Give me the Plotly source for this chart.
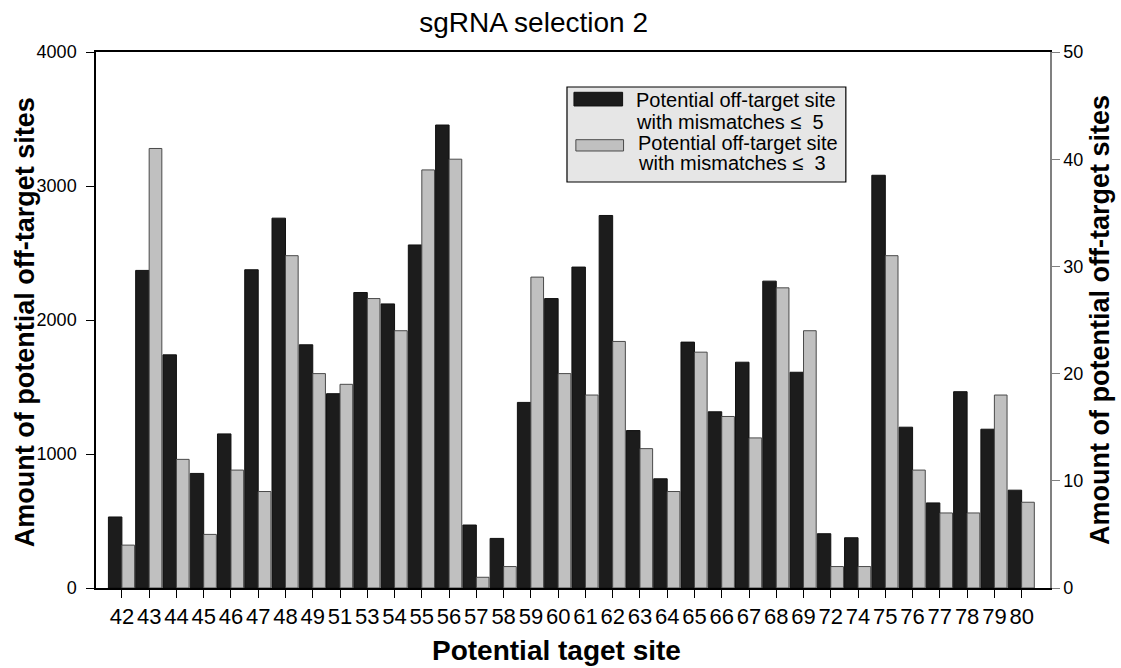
import plotly.graph_objects as go

sites = ["42", "43", "44", "45", "46", "47", "48", "49", "51", "53", "54", "55", "56",
         "57", "58", "59", "60", "61", "62", "63", "64", "65", "66", "67", "68", "69",
         "72", "74", "75", "76", "77", "78", "79", "80"]
mismatch5 = [530, 2370, 1740, 855, 1150, 2375, 2760, 1815, 1450, 2205, 2120, 2560, 3455,
             470, 370, 1385, 2160, 2395, 2780, 1175, 815, 1835, 1315, 1685, 2290, 1610,
             405, 375, 3080, 1200, 635, 1465, 1185, 730]
mismatch3 = [4, 41, 12, 5, 11, 9, 31, 20, 19, 27, 24, 39, 40,
             1, 2, 29, 20, 18, 23, 13, 9, 22, 16, 14, 28, 24,
             2, 2, 31, 11, 7, 7, 18, 8]

legend5_lines = ["Potential off-target site", "with mismatches \u2264  5"]
legend3_lines = ["Potential off-target site", "with mismatches \u2264  3"]

FONT = "Liberation Sans, Arial, sans-serif"

fig = go.Figure()
fig.add_trace(go.Bar(x=sites, y=mismatch5, name=" ".join(legend5_lines), yaxis="y",
                     offset=-0.495, width=0.495,
                     marker=dict(color="#1c1c1c", line=dict(color="#111111", width=1)),
                     showlegend=False))
fig.add_trace(go.Bar(x=sites, y=mismatch3, name=" ".join(legend3_lines), yaxis="y2",
                     offset=0.0, width=0.465,
                     marker=dict(color="#c0c0c0", line=dict(color="#4a4a4a", width=1)),
                     showlegend=False))

# legend drawn as a box in paper space
shapes = [
    dict(type="rect", xref="paper", yref="paper", x0=0.4937, x1=0.786, y0=0.7575, y1=0.9347,
         fillcolor="#e6e6e6", line=dict(color="#000000", width=1.2), layer="above"),
    dict(type="rect", xref="paper", yref="paper", x0=0.501, x1=0.552, y0=0.8993, y1=0.9248,
         fillcolor="#1c1c1c", line=dict(color="#111111", width=1), layer="above"),
    dict(type="rect", xref="paper", yref="paper", x0=0.503, x1=0.553, y0=0.8153, y1=0.8364,
         fillcolor="#c0c0c0", line=dict(color="#4a4a4a", width=1), layer="above"),
]

def leg(x, y, t):
    return dict(xref="paper", yref="paper", x=x, y=y, text=t, showarrow=False,
                xanchor="left", yanchor="middle", align="left",
                font=dict(family=FONT, size=20, color="#000000"))

annotations = [
    leg(0.5639, 0.9104, legend5_lines[0]),
    leg(0.5639, 0.8694, legend5_lines[1]),
    leg(0.5660, 0.8302, legend3_lines[0]),
    leg(0.5660, 0.7929, legend3_lines[1]),
    dict(xref="paper", yref="paper", x=-0.0744, y=0.496, text="<b>Amount of potential off-target sites</b>",
         showarrow=False, textangle=-90, xanchor="center", yanchor="middle",
         font=dict(family=FONT, size=27, color="#000000")),
    dict(xref="paper", yref="paper", x=1.0524, y=0.5, text="<b>Amount of potential off-target sites</b>",
         showarrow=False, textangle=-90, xanchor="center", yanchor="middle",
         font=dict(family=FONT, size=27, color="#000000")),
    dict(xref="paper", yref="paper", x=0.483, y=-0.1157, text="<b>Potential taget site</b>",
         showarrow=False, xanchor="center", yanchor="middle",
         font=dict(family=FONT, size=28, color="#000000")),
]

fig.update_layout(
    width=1121, height=668,
    paper_bgcolor="white", plot_bgcolor="white",
    margin=dict(l=96, r=71, t=52, b=80, autoexpand=False),
    barmode="overlay",
    title=dict(text="sgRNA selection 2", x=0.476, xanchor="center", y=0.967, yref="container",
               yanchor="middle", font=dict(family=FONT, size=28, color="#000000")),
    xaxis=dict(type="category", range=[-0.95, 34.04], showgrid=False,
               tickmode="array", tickvals=sites, ticktext=sites,
               showline=True, linecolor="#000000", linewidth=1.5, mirror=True,
               ticks="outside", ticklen=8, tickcolor="#000000", tickwidth=1.2,
               tickfont=dict(family=FONT, size=22, color="#000000")),
    yaxis=dict(range=[0, 4000], dtick=1000, showgrid=False, zeroline=False,
               showline=True, linecolor="#000000", linewidth=1.5,
               ticks="outside", ticklen=8, tickcolor="#000000", tickwidth=1.2,
               ticklabelstandoff=6,
               tickfont=dict(family=FONT, size=18, color="#000000")),
    yaxis2=dict(range=[0, 50], dtick=10, overlaying="y", side="right", showgrid=False,
                zeroline=False, showline=True, linecolor="#808080", linewidth=1.5,
                ticks="outside", ticklen=8, tickcolor="#808080", tickwidth=1.2,
                tickfont=dict(family=FONT, size=18, color="#000000")),
    shapes=shapes, annotations=annotations,
)

fig.write_html("out.html", config={"displayModeBar": False},
               post_script="document.body.style.margin='0px';document.body.style.overflow='hidden';")
